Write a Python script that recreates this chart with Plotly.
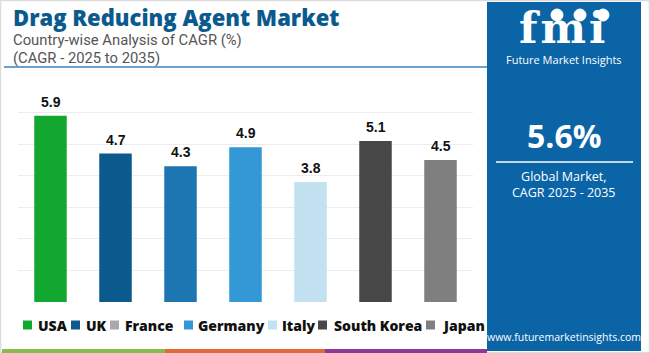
import plotly.graph_objects as go

# ---- data ----
countries = ["USA", "UK", "France", "Germany", "Italy", "South Korea", "Japan"]
cagr = [5.9, 4.7, 4.3, 4.9, 3.8, 5.1, 4.5]
bar_colors = ["#12a82f", "#0b5a8e", "#1d76b2", "#3497d6", "#c4e1f2", "#474747", "#7f7f7f"]
legend_colors = ["#12a82f", "#0b5a8e", "#a9a9a9", "#3497d6", "#c4e1f2", "#474747", "#7f7f7f"]
title_text = "Drag Reducing Agent Market"
subtitle_lines = ["Country-wise Analysis of CAGR (%)", "(CAGR - 2025 to 2035)"]
global_cagr = "5.6%"
global_lines = ["Global Market,", "CAGR 2025 - 2035"]
brand = "Future Market Insights"
website = "www.futuremarketinsights.com"
y_ticks = [0, 1, 2, 3, 4, 5, 6, 7]

W, H = 650, 353
L, R, T, B = 18, 177, 81, 51
PW, PH = W - L - R, H - T - B


def px(x):
    return (x - L) / PW


def py(y):
    return (H - B - y) / PH


fig = go.Figure()
fig.add_trace(go.Bar(
    x=countries, y=cagr, marker=dict(color=bar_colors, line=dict(width=0)),
    width=0.5, showlegend=False, hoverinfo="x+y",
))

annotations = []
for c, v in zip(countries, cagr):
    annotations.append(dict(
        x=c, y=v, xref="x", yref="y", text=f"{v}", showarrow=False,
        yanchor="bottom", yshift=4,
        font=dict(family="Liberation Sans, Arial", size=14, color="#111111", weight="bold"),
    ))

shapes = []
# outer border
shapes.append(dict(type="rect", xref="paper", yref="paper", x0=px(0.5), x1=px(W - 0.5),
                   y0=py(H - 0.5), y1=py(0.5), line=dict(color="#dcdcdc", width=1.5), layer="below"))
# right panel
shapes.append(dict(type="rect", xref="paper", yref="paper", x0=px(487), x1=px(641),
                   y0=py(351), y1=py(2), fillcolor="#0b64a6", line=dict(width=0), layer="below"))
# header underline
shapes.append(dict(type="line", xref="paper", yref="paper", x0=px(4), x1=px(487),
                   y0=py(67), y1=py(67), line=dict(color="#3d80b8", width=1.5)))
# bottom stripe
for x0, x1, col in [(2, 165, "#86bc4b"), (165, 325, "#e0693b"), (325, 487, "#8c3a95")]:
    shapes.append(dict(type="rect", xref="paper", yref="paper", x0=px(x0), x1=px(x1),
                       y0=py(353), y1=py(349), fillcolor=col, line=dict(width=0)))
# panel divider line
shapes.append(dict(type="line", xref="paper", yref="paper", x0=px(496), x1=px(633),
                   y0=py(162), y1=py(162), line=dict(color="#ffffff", width=1.5)))
# logo circles
for cx in [557, 580, 603]:
    shapes.append(dict(type="circle", xref="paper", yref="paper", x0=px(cx - 6), x1=px(cx + 6),
                       y0=py(21), y1=py(9), fillcolor="#ffffff", line=dict(color="#ffffff", width=1)))

# legend (manual)
leg_sq_x = [23, 71, 110, 184, 268, 318, 426]
leg_tx_x = [36, 84, 123, 196, 280, 332, 440]
leg_y = 325
for name, col, sx, tx in zip(countries, legend_colors, leg_sq_x, leg_tx_x):
    shapes.append(dict(type="rect", xref="paper", yref="paper", x0=px(sx), x1=px(sx + 9),
                       y0=py(leg_y + 4.5), y1=py(leg_y - 4.5), fillcolor=col, line=dict(width=0)))
    annotations.append(dict(x=px(tx), y=py(leg_y), xref="paper", yref="paper", text=name,
                            showarrow=False, xanchor="left", yanchor="middle",
                            font=dict(family="Open Sans", size=14, color="#111111", weight=800)))

# title + subtitles in one text block
head = (f"<span style='font-size:22px;color:#0b5a8e;font-weight:800'>{title_text}</span><br>"
        + "<br>".join(f"<span style='font-family:Roboto;font-size:14.8px'>{s}</span>" for s in subtitle_lines))
annotations.append(dict(x=px(11), y=py(0), xref="paper", yref="paper", text=head,
                        showarrow=False, xanchor="left", yanchor="top", align="left",
                        font=dict(family="Open Sans", size=14.4, color="#555555")))

# right panel: logo + brand as one block
logo = (f"<span style='font-family:DejaVu Serif;font-size:43px;font-weight:bold;letter-spacing:3px'>fmi</span><br>"
        f"<span style='font-size:11px'>{brand}</span>")
annotations.append(dict(x=px(564), y=py(1), xref="paper", yref="paper", text=logo,
                        showarrow=False, xanchor="center", yanchor="top", align="center",
                        font=dict(family="Open Sans", size=16.5, color="#ffffff")))
annotations.append(dict(x=px(564), y=py(135), xref="paper", yref="paper", text=global_cagr,
                        showarrow=False, xanchor="center", yanchor="middle",
                        font=dict(family="Open Sans", size=32, color="#ffffff", weight="bold")))
annotations.append(dict(x=px(564), y=py(184), xref="paper", yref="paper", text="<br>".join(global_lines),
                        showarrow=False, xanchor="center", yanchor="middle", align="center",
                        font=dict(family="Open Sans", size=12.5, color="#ffffff")))
annotations.append(dict(x=px(564), y=py(337), xref="paper", yref="paper", text=website,
                        showarrow=False, xanchor="center", yanchor="middle",
                        font=dict(family="Open Sans", size=10.5, color="#ffffff")))

fig.update_layout(
    width=W, height=H,
    margin=dict(l=L, r=R, t=T, b=B, pad=0),
    paper_bgcolor="#ffffff", plot_bgcolor="#ffffff",
    xaxis=dict(showticklabels=False, showgrid=False, zeroline=False, showline=False, ticks=""),
    yaxis=dict(range=[0, 7], tickvals=y_ticks, showticklabels=False, showgrid=True,
               gridcolor="#ececec", gridwidth=1, zeroline=False, showline=False, ticks=""),
    shapes=shapes, annotations=annotations, bargap=0.5, showlegend=False,
)

fig.write_html("out.html")
